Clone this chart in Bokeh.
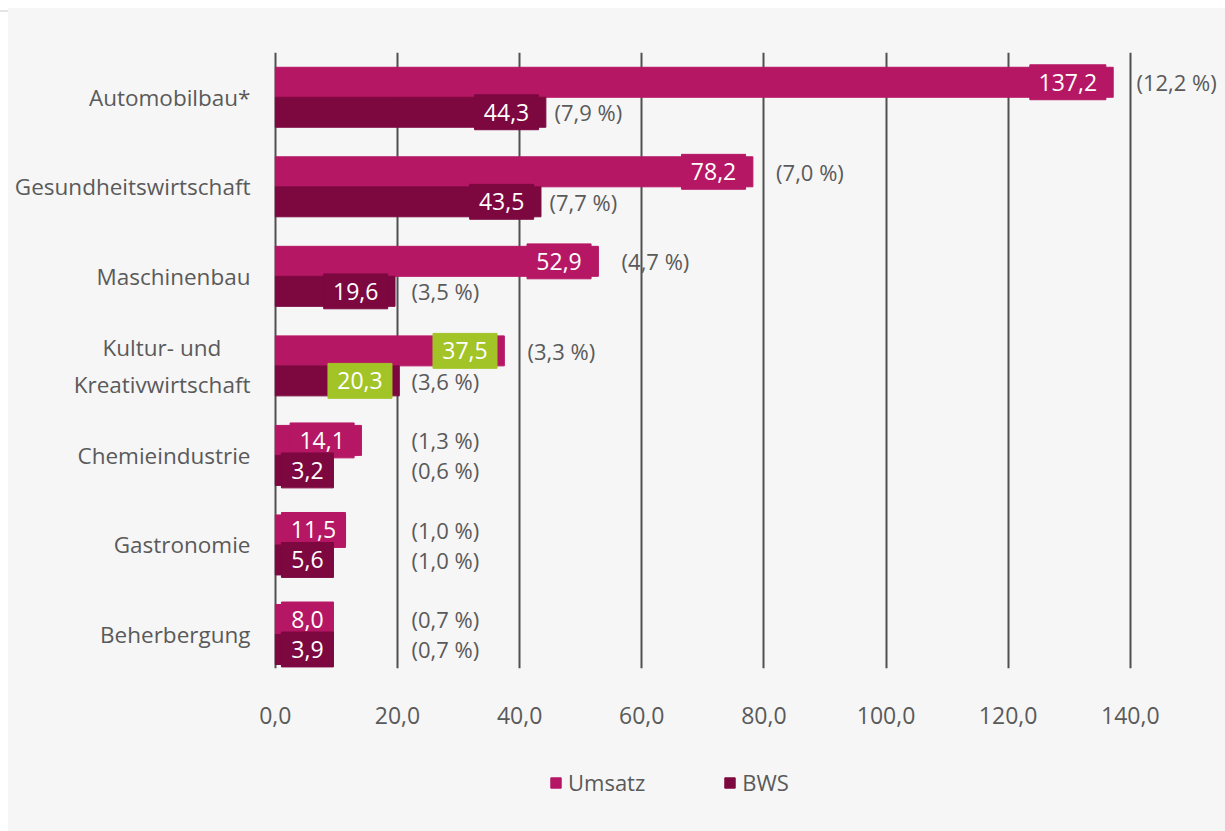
from bokeh.plotting import figure
from bokeh.models import Range1d, FixedTicker, Legend, LegendItem, Div, Spacer
from bokeh.layouts import column, row
from bokeh.core.properties import value
from bokeh.embed import file_html
from bokeh.resources import INLINE

# Branchenvergleich: Umsatz und Bruttowertschöpfung (Mrd. Euro) mit Anteilen
categories = [
    "Automobilbau*",
    "Gesundheitswirtschaft",
    "Maschinenbau",
    "Kultur- und\u00a0\u00a0\u00a0\u00a0\u00a0\nKreativwirtschaft",
    "Chemieindustrie",
    "Gastronomie",
    "Beherbergung",
]
umsatz = [137.2, 78.2, 52.9, 37.5, 14.1, 11.5, 8.0]
bws = [44.3, 43.5, 19.6, 20.3, 3.2, 5.6, 3.9]
umsatz_share = [12.2, 7.0, 4.7, 3.3, 1.3, 1.0, 0.7]
bws_share = [7.9, 7.7, 3.5, 3.6, 0.6, 1.0, 0.7]
series_names = ["Umsatz", "BWS"]
highlight_index = 3
x_ticks = [0, 20, 40, 60, 80, 100, 120, 140]
x_tick_labels = ["0,0", "20,0", "40,0", "60,0", "80,0", "100,0", "120,0", "140,0"]

C_UMSATZ = "#b61764"
C_BWS = "#7d0840"
C_HIGHLIGHT = "#a3c427"
C_TEXT = "#5a5a5a"
BG = "#f6f6f6"
FONT = "Open Sans"

X_START = -0.3
X_END = 155.1
PX = 6.105                     # pixels per data unit
BAR_H = 0.335
BOX_H = 0.39


def de(v, fmt="{:.1f}"):
    return fmt.format(v).replace(".", ",")


p = figure(width=1217, height=740, output_backend="svg", toolbar_location=None,
           x_range=Range1d(X_START, X_END), y_range=Range1d(6.38, -0.5),
           min_border_left=265, min_border_right=3, min_border_top=44,
           min_border_bottom=80)
p.background_fill_color = BG
p.border_fill_color = BG
p.outline_line_color = None

ys = list(range(len(categories)))
y_u = [y - BAR_H / 2 for y in ys]
y_b = [y + BAR_H / 2 for y in ys]

p.hbar(y=y_u, right=umsatz, left=0, height=BAR_H, color=C_UMSATZ)
p.hbar(y=y_b, right=bws, left=0, height=BAR_H, color=C_BWS)


def label_boxes(vals, yc, base_color):
    texts = [de(v) for v in vals]
    widths = [(28 + 12 * sum(ch.isdigit() for ch in t)) / PX for t in texts]
    rights = [max(v - 1.2, 1.0 + w) for v, w in zip(vals, widths)]
    lefts = [r - w for r, w in zip(rights, widths)]
    colors = [C_HIGHLIGHT if i == highlight_index else base_color for i in ys]
    p.quad(left=lefts, right=rights, top=[y - BOX_H / 2 for y in yc],
           bottom=[y + BOX_H / 2 for y in yc], color=colors)
    p.text(x=[(l + r) / 2 for l, r in zip(lefts, rights)], y=yc, text=texts,
           text_align="center", text_baseline="middle", text_color="white",
           text_font_size="23px", text_font=value(FONT))


label_boxes(umsatz, y_u, C_UMSATZ)
label_boxes(bws, y_b, C_BWS)

# Anteile in Klammern rechts neben den Balken
p.text(x=[max(v + 3.8, 22.3) for v in umsatz], y=y_u,
       text=["(" + de(s) + " %)" for s in umsatz_share],
       text_align="left", text_baseline="middle", text_color=C_TEXT,
       text_font_size="22px", text_font=value(FONT))
p.text(x=[max(v + 1.4, 22.3) for v in bws], y=y_b,
       text=["(" + de(s) + " %)" for s in bws_share],
       text_align="left", text_baseline="middle", text_color=C_TEXT,
       text_font_size="22px", text_font=value(FONT))

# Achsen
p.xaxis.ticker = FixedTicker(ticks=x_ticks)
p.xaxis.major_label_overrides = {t: l for t, l in zip(x_ticks, x_tick_labels)}
p.xaxis.axis_line_color = None
p.xaxis.major_tick_line_color = None
p.xaxis.minor_tick_line_color = None
p.xaxis.major_label_standoff = 32
p.xaxis.major_label_text_font_size = "23px"
p.xaxis.major_label_text_color = C_TEXT
p.xaxis.major_label_text_font = FONT

p.yaxis.ticker = FixedTicker(ticks=ys)
p.yaxis.major_label_overrides = {y: c for y, c in zip(ys, categories)}
p.yaxis.axis_line_color = None
p.yaxis.major_tick_line_color = None
p.yaxis.minor_tick_line_color = None
p.yaxis.major_label_standoff = 17
p.yaxis.major_label_text_font_size = "22.5px"
p.yaxis.major_label_text_color = C_TEXT
p.yaxis.major_label_text_font = FONT

p.ygrid.grid_line_color = None
p.xgrid.ticker = FixedTicker(ticks=x_ticks)
p.xgrid.grid_line_color = "#505050"
p.xgrid.grid_line_width = 2

# Legende in eigener Leiste unter dem Diagramm
leg = figure(width=1217, height=83, output_backend="svg", toolbar_location=None,
             x_range=Range1d(0, 1), y_range=Range1d(0, 1),
             min_border=0)
leg.axis.visible = False
leg.grid.visible = False
leg.background_fill_color = BG
leg.border_fill_color = BG
leg.outline_line_color = None
# Farbfelder der Legende (liegen außerhalb des sichtbaren Bereichs)
swatches = [leg.hbar(y=[-5], right=[1], height=0.1, color=c) for c in (C_UMSATZ, C_BWS)]

legend = Legend(items=[LegendItem(label=n, renderers=[r], index=0)
                       for n, r in zip(series_names, swatches)],
                orientation="horizontal", location=(276, 34))
legend.glyph_width = 13
legend.glyph_height = 13
legend.label_standoff = 6
legend.spacing = 78
legend.padding = 0
legend.margin = 0
legend.background_fill_alpha = 0
legend.border_line_color = None
legend.label_text_font_size = "22px"
legend.label_text_color = C_TEXT
legend.label_text_font = FONT
leg.add_layout(legend, "center")

top = Div(width=1225, height=8, margin=0,
          text='<div style="height:5px"></div><div style="height:2px;background:#e4e4e4;width:1225px"></div>')
left = Spacer(width=8, height=823, margin=0)
body = column(p, leg, spacing=0, styles={"background-color": BG})
layout = column(top, row(left, body, spacing=0), spacing=0)

open("out.html", "w").write(file_html(layout, INLINE))
